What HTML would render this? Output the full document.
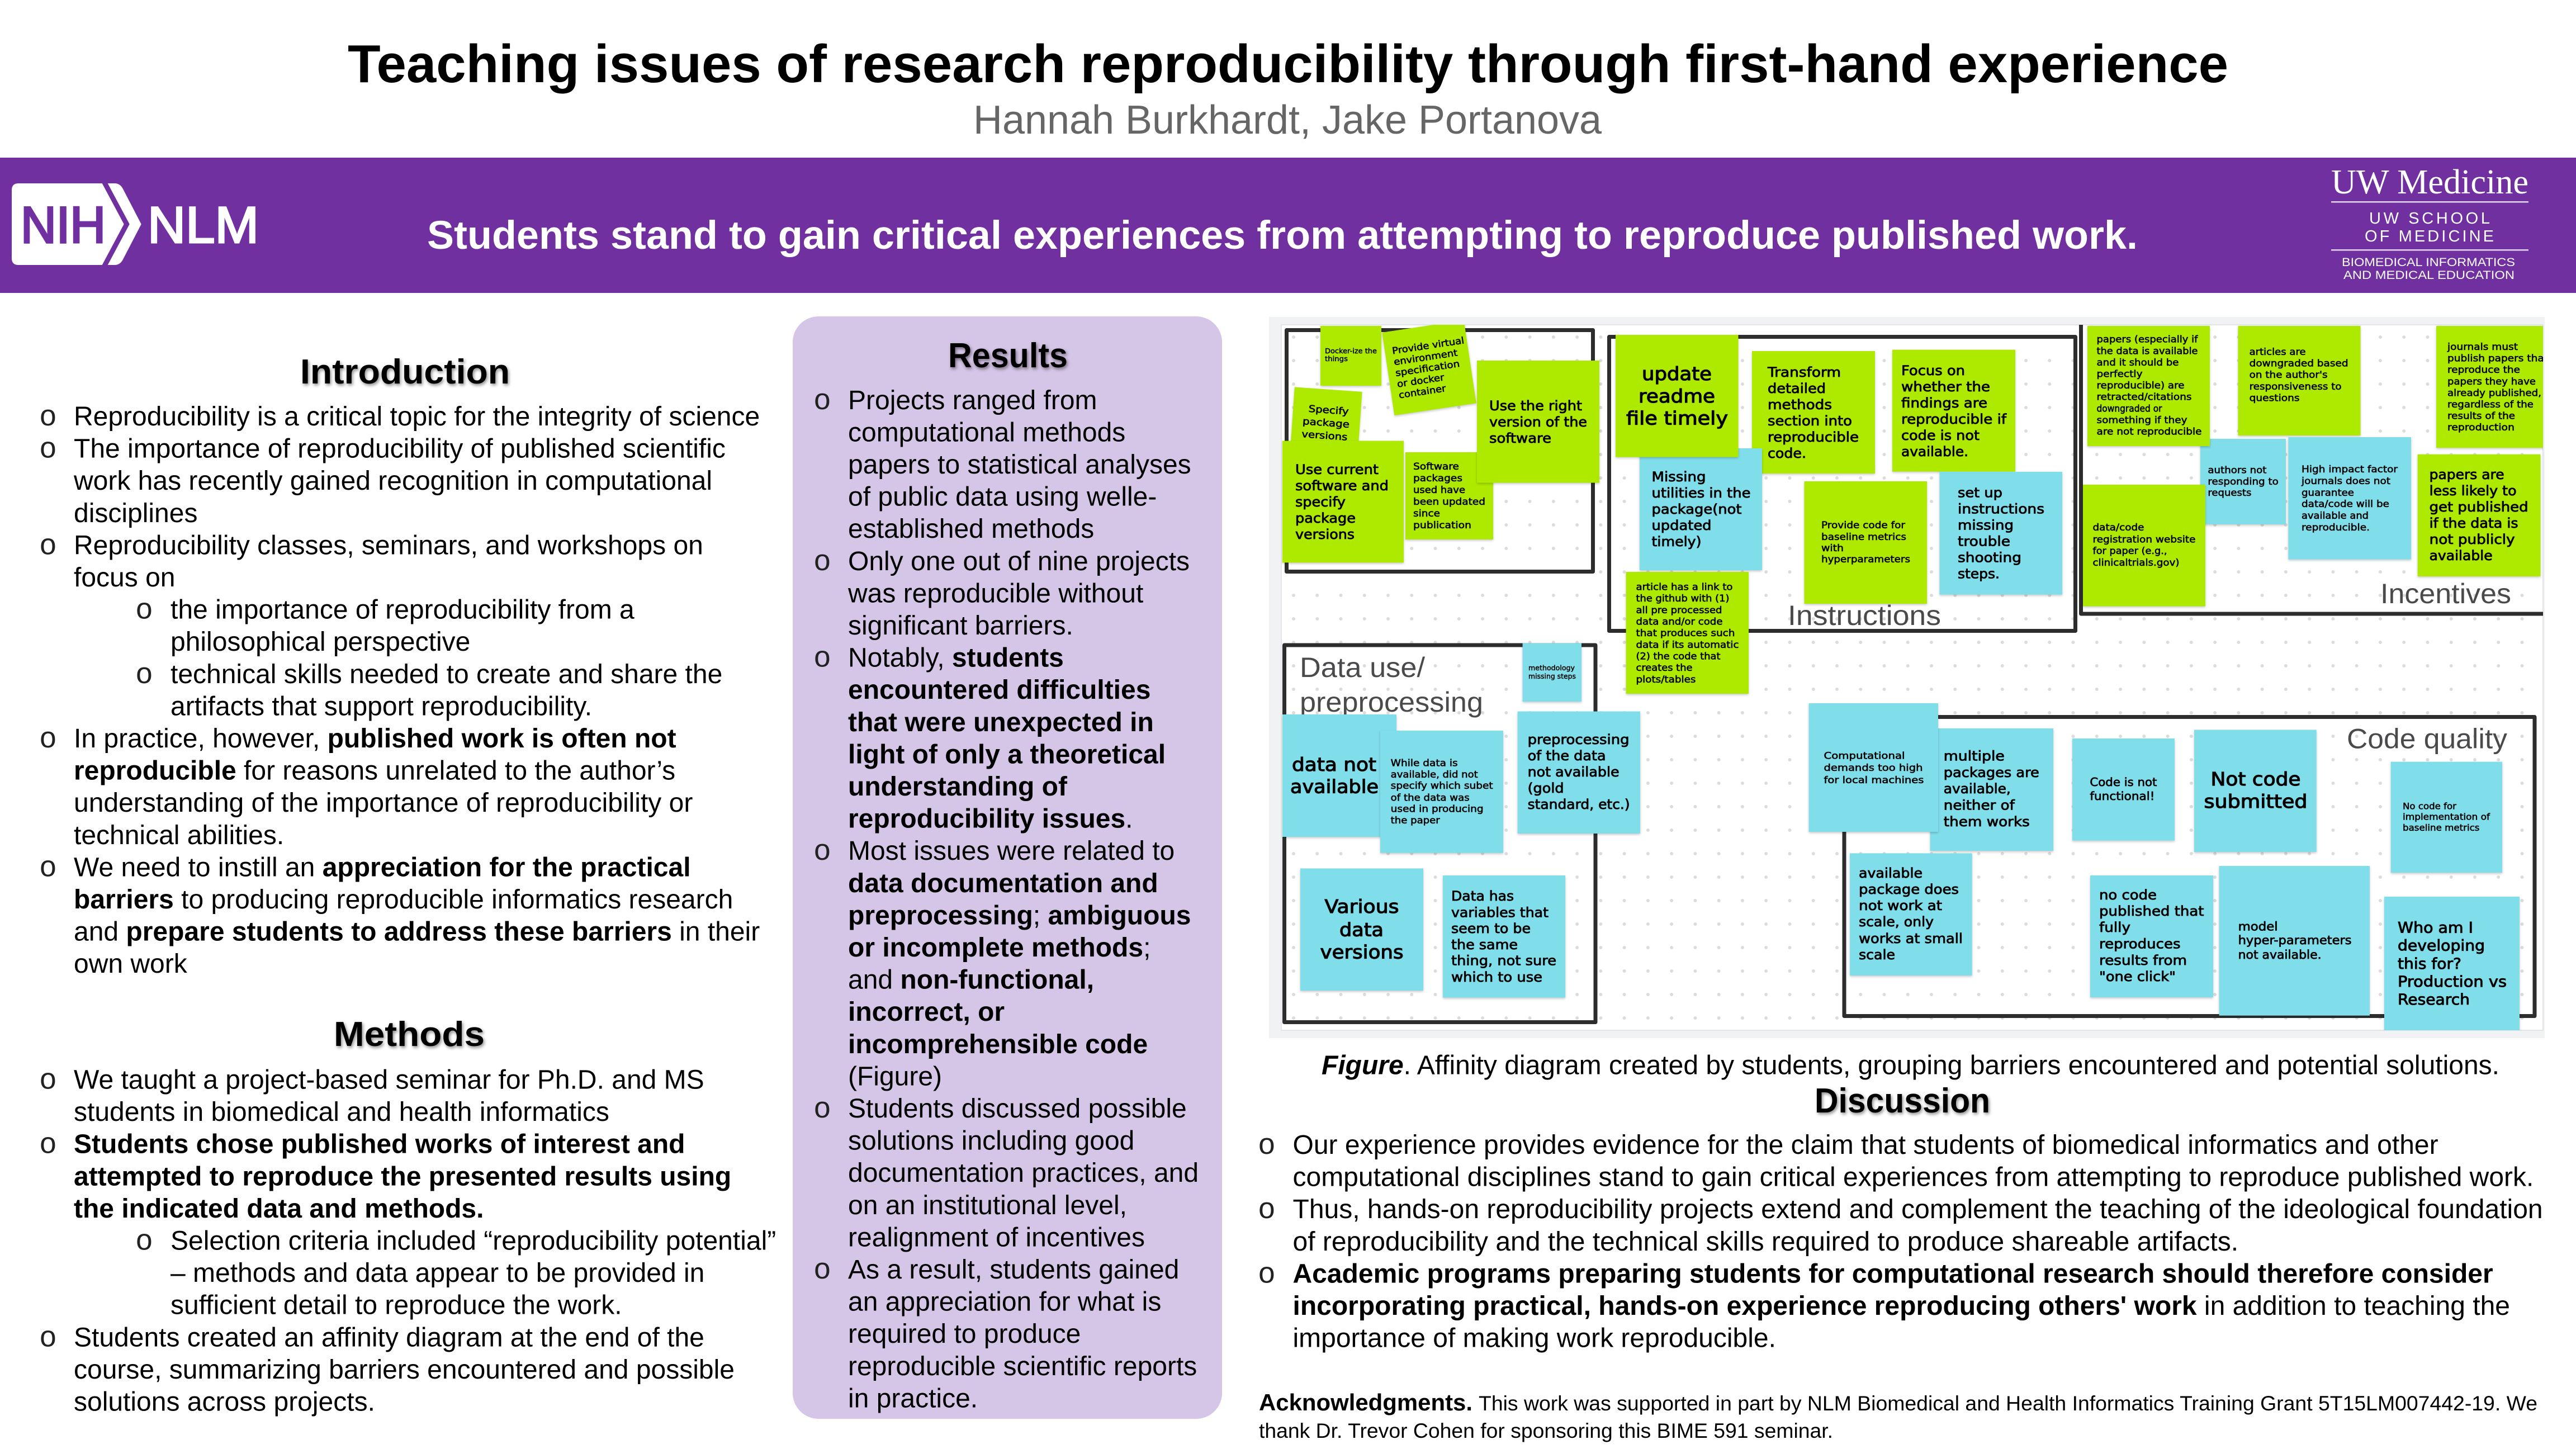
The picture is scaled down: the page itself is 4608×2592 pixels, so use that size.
<!DOCTYPE html>
<html lang="en">
<head>
<meta charset="utf-8">
<title>Teaching issues of research reproducibility through first-hand experience</title>
<style>
html,body{margin:0;padding:0;background:#fff;width:4608px;height:2592px;overflow:hidden}
svg{display:block;position:absolute;left:0;top:0}
text{font-family:"Liberation Sans",Arial,sans-serif;white-space:pre}
.b{font-size:48px;fill:#000}
.o{font-family:"Liberation Mono",monospace;font-size:53px;fill:#222}
.h{font-size:62px;font-weight:700;fill:#000;filter:drop-shadow(2px 3px 3px rgba(0,0,0,.45))}
.st text{font-family:"DejaVu Sans",sans-serif;fill:#000;stroke:#000;stroke-width:.035em}
.st rect{filter:drop-shadow(0 2px 2px rgba(0,0,0,.22))}
.gr{fill:#aeea00}
.bl{fill:#80deea}
.lab{font-size:50px;fill:#4a4a4c}
tspan.B{font-weight:700}
</style>
</head>
<body>
<svg xmlns="http://www.w3.org/2000/svg" width="4608" height="2592" viewBox="0 0 4608 2592">
<defs>
<pattern id="dots" patternUnits="userSpaceOnUse" x="2292.87" y="582" width="42.26" height="42"><circle cx="21.13" cy="21" r="3" fill="#dcdcdc"/></pattern>
<clipPath id="fig"><rect x="2292" y="581" width="2257" height="1262"/></clipPath>
</defs>

<!-- Header -->
<text x="622" y="147" font-size="96" font-weight="700" textLength="3364" lengthAdjust="spacingAndGlyphs">Teaching issues of research reproducibility through first-hand experience</text>
<text x="1741" y="239" font-size="72" fill="#666" textLength="1124" lengthAdjust="spacingAndGlyphs">Hannah Burkhardt, Jake Portanova</text>
<rect x="0" y="282" width="4608" height="242" fill="#7030a0"/>
<text x="764" y="445" font-size="71" font-weight="700" fill="#fff" textLength="3060" lengthAdjust="spacingAndGlyphs">Students stand to gain critical experiences from attempting to reproduce published work.</text>

<!-- NIH logo -->
<path d="M33,328H182.7L221.7,401L182.7,474H33Q21,474 21,462V340Q21,328 33,328Z" fill="#fff"/>
<path d="M192.7,328H205Q215,328 220,338L252.7,401L220,464Q215,474 205,474H192.7L231.7,401Z" fill="#fff"/>
<text x="37" y="434" font-size="92" fill="#7030a0" stroke="#7030a0" stroke-width="3.5" textLength="152" lengthAdjust="spacingAndGlyphs">NIH</text>
<text x="264" y="434" font-size="92" fill="#fff" stroke="#fff" stroke-width="3" textLength="199" lengthAdjust="spacingAndGlyphs">NLM</text>

<!-- UW logo -->
<text x="4170" y="346" font-size="62" fill="#fff" style="font-family:'Liberation Serif',serif" textLength="353" lengthAdjust="spacingAndGlyphs">UW Medicine</text>
<rect x="4170" y="360" width="353" height="2.5" fill="#e3d7ee"/>
<text x="4238" y="400" font-size="29" fill="#fff" textLength="216" lengthAdjust="spacing">UW SCHOOL</text>
<text x="4230" y="432" font-size="29" fill="#fff" textLength="231" lengthAdjust="spacing">OF MEDICINE</text>
<rect x="4170" y="446" width="353" height="2.5" fill="#e3d7ee"/>
<text x="4189" y="476" font-size="21" fill="#fff" textLength="310" lengthAdjust="spacingAndGlyphs">BIOMEDICAL INFORMATICS</text>
<text x="4192" y="499" font-size="21" fill="#fff" textLength="306" lengthAdjust="spacingAndGlyphs">AND MEDICAL EDUCATION</text>

<!-- Introduction -->
<text class="h" x="537" y="686" textLength="375" lengthAdjust="spacingAndGlyphs">Introduction</text>
<text class="o" x="70" y="761">o</text><text class="b" x="132" y="761">Reproducibility is a critical topic for the integrity of science</text>
<text class="o" x="70" y="818.6">o</text><text class="b" x="132" y="818.6">The importance of reproducibility of published scientific</text>
<text class="b" x="132" y="876.2">work has recently gained recognition in computational</text>
<text class="b" x="132" y="933.8">disciplines</text>
<text class="o" x="70" y="991.4">o</text><text class="b" x="132" y="991.4">Reproducibility classes, seminars, and workshops on</text>
<text class="b" x="132" y="1049">focus on</text>
<text class="o" x="242" y="1106.6">o</text><text class="b" x="305" y="1106.6">the importance of reproducibility from a</text>
<text class="b" x="305" y="1164.2">philosophical perspective</text>
<text class="o" x="242" y="1221.8">o</text><text class="b" x="305" y="1221.8">technical skills needed to create and share the</text>
<text class="b" x="305" y="1279.4">artifacts that support reproducibility.</text>
<text class="o" x="70" y="1337">o</text><text class="b" x="132" y="1337">In practice, however, <tspan class="B">published work is often not</tspan></text>
<text class="b" x="132" y="1394.6"><tspan class="B">reproducible</tspan> for reasons unrelated to the author’s</text>
<text class="b" x="132" y="1452.2">understanding of the importance of reproducibility or</text>
<text class="b" x="132" y="1509.8">technical abilities.</text>
<text class="o" x="70" y="1567.4">o</text><text class="b" x="132" y="1567.4">We need to instill an <tspan class="B">appreciation for the practical</tspan></text>
<text class="b" x="132" y="1625"><tspan class="B">barriers</tspan> to producing reproducible informatics research</text>
<text class="b" x="132" y="1682.6">and <tspan class="B">prepare students to address these barriers</tspan> in their</text>
<text class="b" x="132" y="1740.2">own work</text>

<!-- Methods -->
<text class="h" x="597" y="1871" textLength="270" lengthAdjust="spacingAndGlyphs">Methods</text>
<text class="o" x="70" y="1947.5">o</text><text class="b" x="132" y="1947.5">We taught a project-based seminar for Ph.D. and MS</text>
<text class="b" x="132" y="2005.1">students in biomedical and health informatics</text>
<text class="o" x="70" y="2062.7">o</text><text class="b" x="132" y="2062.7"><tspan class="B">Students chose published works of interest and</tspan></text>
<text class="b" x="132" y="2120.3"><tspan class="B">attempted to reproduce the presented results using</tspan></text>
<text class="b" x="132" y="2177.9"><tspan class="B">the indicated data and methods.</tspan></text>
<text class="o" x="242" y="2235.5">o</text><text class="b" x="305" y="2235.5">Selection criteria included “reproducibility potential”</text>
<text class="b" x="305" y="2293.1">– methods and data appear to be provided in</text>
<text class="b" x="305" y="2350.7">sufficient detail to reproduce the work.</text>
<text class="o" x="70" y="2408.3">o</text><text class="b" x="132" y="2408.3">Students created an affinity diagram at the end of the</text>
<text class="b" x="132" y="2465.9">course, summarizing barriers encountered and possible</text>
<text class="b" x="132" y="2523.5">solutions across projects.</text>

<!-- Results -->
<rect x="1418" y="566" width="768" height="1972" rx="46" ry="46" fill="#d5c5e6"/>
<text class="h" x="1696" y="657" textLength="214" lengthAdjust="spacingAndGlyphs">Results</text>
<text class="o" x="1455" y="731.8">o</text><text class="b" x="1517" y="731.8">Projects ranged from</text>
<text class="b" x="1517" y="789.4">computational methods</text>
<text class="b" x="1517" y="847">papers to statistical analyses</text>
<text class="b" x="1517" y="904.6">of public data using welle-</text>
<text class="b" x="1517" y="962.2">established methods</text>
<text class="o" x="1455" y="1019.8">o</text><text class="b" x="1517" y="1019.8">Only one out of nine projects</text>
<text class="b" x="1517" y="1077.4">was reproducible without</text>
<text class="b" x="1517" y="1135">significant barriers.</text>
<text class="o" x="1455" y="1192.6">o</text><text class="b" x="1517" y="1192.6">Notably, <tspan class="B">students</tspan></text>
<text class="b" x="1517" y="1250.2"><tspan class="B">encountered difficulties</tspan></text>
<text class="b" x="1517" y="1307.8"><tspan class="B">that were unexpected in</tspan></text>
<text class="b" x="1517" y="1365.4"><tspan class="B">light of only a theoretical</tspan></text>
<text class="b" x="1517" y="1423"><tspan class="B">understanding of</tspan></text>
<text class="b" x="1517" y="1480.6"><tspan class="B">reproducibility issues</tspan>.</text>
<text class="o" x="1455" y="1538.2">o</text><text class="b" x="1517" y="1538.2">Most issues were related to</text>
<text class="b" x="1517" y="1595.8"><tspan class="B">data documentation and</tspan></text>
<text class="b" x="1517" y="1653.4"><tspan class="B">preprocessing</tspan>; <tspan class="B">ambiguous</tspan></text>
<text class="b" x="1517" y="1711"><tspan class="B">or incomplete methods</tspan>;</text>
<text class="b" x="1517" y="1768.6">and <tspan class="B">non-functional,</tspan></text>
<text class="b" x="1517" y="1826.2"><tspan class="B">incorrect, or</tspan></text>
<text class="b" x="1517" y="1883.8"><tspan class="B">incomprehensible code</tspan></text>
<text class="b" x="1517" y="1941.4">(Figure)</text>
<text class="o" x="1455" y="1999">o</text><text class="b" x="1517" y="1999">Students discussed possible</text>
<text class="b" x="1517" y="2056.6">solutions including good</text>
<text class="b" x="1517" y="2114.2">documentation practices, and</text>
<text class="b" x="1517" y="2171.8">on an institutional level,</text>
<text class="b" x="1517" y="2229.4">realignment of incentives</text>
<text class="o" x="1455" y="2287">o</text><text class="b" x="1517" y="2287">As a result, students gained</text>
<text class="b" x="1517" y="2344.6">an appreciation for what is</text>
<text class="b" x="1517" y="2402.2">required to produce</text>
<text class="b" x="1517" y="2459.8">reproducible scientific reports</text>
<text class="b" x="1517" y="2517.4">in practice.</text>

<!-- Figure panel -->
<rect x="2270" y="567" width="2282" height="1290" fill="#f1f2f4"/>
<rect x="2292" y="581" width="2257" height="1262" fill="#fff" stroke="#e2e4e7" stroke-width="2"/>
<rect x="2292" y="581" width="2257" height="1262" fill="url(#dots)"/>

<g clip-path="url(#fig)">
<!-- frames -->
<g fill="none" stroke="#2d2d2d" stroke-width="7" stroke-linejoin="round">
<rect x="2301.5" y="590.5" width="548" height="432"/>
<rect x="2878.5" y="602.5" width="834" height="526"/>
<path d="M3722.5,570V1098H4570"/>
<rect x="2297.5" y="1154" width="556.5" height="674.5"/>
<rect x="3299" y="1282.5" width="1235" height="535"/>
</g>
<!-- frame labels -->
<text class="lab" x="3198" y="1118" textLength="274" lengthAdjust="spacingAndGlyphs">Instructions</text>
<text class="lab" x="4258" y="1079" textLength="234" lengthAdjust="spacingAndGlyphs">Incentives</text>
<text class="lab" x="2325" y="1211" textLength="224" lengthAdjust="spacingAndGlyphs">Data use/</text>
<text class="lab" x="2325" y="1273" textLength="328" lengthAdjust="spacingAndGlyphs">preprocessing</text>
<text class="lab" x="4198" y="1338.6" textLength="287" lengthAdjust="spacingAndGlyphs">Code quality</text>

<g class="st">
<!-- Top-left group -->
<rect class="gr" x="2362" y="583" width="109" height="107"/>
<g font-size="12.5">
<text x="2370" y="632" textLength="93" lengthAdjust="spacingAndGlyphs">Docker-ize the</text>
<text x="2370" y="646" textLength="41" lengthAdjust="spacingAndGlyphs">things</text>
</g>
<g transform="rotate(-8.5 2556.5 658)" font-size="16.5">
<rect class="gr" x="2482.5" y="583" width="148" height="150"/>
<text x="2495.5" y="624" textLength="130" lengthAdjust="spacingAndGlyphs">Provide virtual</text>
<text x="2495.5" y="644" textLength="115" lengthAdjust="spacingAndGlyphs">environment</text>
<text x="2495.5" y="664" textLength="116" lengthAdjust="spacingAndGlyphs">specification</text>
<text x="2495.5" y="684" textLength="85" lengthAdjust="spacingAndGlyphs">or docker</text>
<text x="2495.5" y="704" textLength="85" lengthAdjust="spacingAndGlyphs">container</text>
</g>
<g transform="rotate(4 2372 757)" font-size="17">
<rect class="gr" x="2311.5" y="696.5" width="121" height="121"/>
<text x="2339" y="739" textLength="72" lengthAdjust="spacingAndGlyphs">Specify</text>
<text x="2330" y="762" textLength="84" lengthAdjust="spacingAndGlyphs">package</text>
<text x="2330" y="785" textLength="82" lengthAdjust="spacingAndGlyphs">versions</text>
</g>
<rect class="gr" x="2294" y="788.6" width="217" height="217.8"/>
<g font-size="24">
<text x="2317" y="848" textLength="149" lengthAdjust="spacingAndGlyphs">Use current</text>
<text x="2317" y="877" textLength="167" lengthAdjust="spacingAndGlyphs">software and</text>
<text x="2317" y="906" textLength="90" lengthAdjust="spacingAndGlyphs">specify</text>
<text x="2317" y="935" textLength="108" lengthAdjust="spacingAndGlyphs">package</text>
<text x="2317" y="964" textLength="106" lengthAdjust="spacingAndGlyphs">versions</text>
</g>
<rect class="gr" x="2514" y="809" width="157" height="156"/>
<g font-size="17">
<text x="2528" y="840" textLength="82" lengthAdjust="spacingAndGlyphs">Software</text>
<text x="2528" y="861" textLength="88" lengthAdjust="spacingAndGlyphs">packages</text>
<text x="2528" y="882" textLength="93" lengthAdjust="spacingAndGlyphs">used have</text>
<text x="2528" y="903" textLength="129" lengthAdjust="spacingAndGlyphs">been updated</text>
<text x="2528" y="924" textLength="48" lengthAdjust="spacingAndGlyphs">since</text>
<text x="2528" y="945" textLength="104" lengthAdjust="spacingAndGlyphs">publication</text>
</g>
<rect class="gr" x="2642" y="645" width="219" height="218.6"/>
<g font-size="24">
<text x="2664" y="734" textLength="166" lengthAdjust="spacingAndGlyphs">Use the right</text>
<text x="2664" y="763" textLength="175" lengthAdjust="spacingAndGlyphs">version of the</text>
<text x="2664" y="792" textLength="111" lengthAdjust="spacingAndGlyphs">software</text>
</g>

<!-- Instructions -->
<rect class="gr" x="3134" y="628" width="220" height="219"/>
<g font-size="24">
<text x="3162" y="674" textLength="131" lengthAdjust="spacingAndGlyphs">Transform</text>
<text x="3162" y="703" textLength="104" lengthAdjust="spacingAndGlyphs">detailed</text>
<text x="3162" y="732" textLength="115" lengthAdjust="spacingAndGlyphs">methods</text>
<text x="3162" y="761" textLength="151" lengthAdjust="spacingAndGlyphs">section into</text>
<text x="3162" y="790" textLength="163" lengthAdjust="spacingAndGlyphs">reproducible</text>
<text x="3162" y="819" textLength="69" lengthAdjust="spacingAndGlyphs">code.</text>
</g>
<rect class="bl" x="2933" y="802" width="219" height="218"/>
<g font-size="24">
<text x="2954.5" y="861" textLength="97" lengthAdjust="spacingAndGlyphs">Missing</text>
<text x="2954.5" y="890" textLength="177" lengthAdjust="spacingAndGlyphs">utilities in the</text>
<text x="2954.5" y="919" textLength="161" lengthAdjust="spacingAndGlyphs">package(not</text>
<text x="2954.5" y="948" textLength="107" lengthAdjust="spacingAndGlyphs">updated</text>
<text x="2954.5" y="977" textLength="89" lengthAdjust="spacingAndGlyphs">timely)</text>
</g>
<rect class="gr" x="2890" y="599" width="219.5" height="218.6"/>
<g font-size="33">
<text x="2937" y="680" textLength="125" lengthAdjust="spacingAndGlyphs">update</text>
<text x="2931" y="720" textLength="137" lengthAdjust="spacingAndGlyphs">readme</text>
<text x="2909" y="759.5" textLength="182" lengthAdjust="spacingAndGlyphs">file timely</text>
</g>
<rect class="gr" x="3385" y="625.6" width="220" height="218"/>
<g font-size="24">
<text x="3401" y="671" textLength="114" lengthAdjust="spacingAndGlyphs">Focus on</text>
<text x="3401" y="700" textLength="159" lengthAdjust="spacingAndGlyphs">whether the</text>
<text x="3401" y="729" textLength="154" lengthAdjust="spacingAndGlyphs">findings are</text>
<text x="3401" y="758" textLength="188" lengthAdjust="spacingAndGlyphs">reproducible if</text>
<text x="3401" y="787" textLength="140" lengthAdjust="spacingAndGlyphs">code is not</text>
<text x="3401" y="816" textLength="120" lengthAdjust="spacingAndGlyphs">available.</text>
</g>
<rect class="gr" x="3227.5" y="861" width="219.5" height="219"/>
<g font-size="17">
<text x="3258" y="945" textLength="150" lengthAdjust="spacingAndGlyphs">Provide code for</text>
<text x="3258" y="966" textLength="152" lengthAdjust="spacingAndGlyphs">baseline metrics</text>
<text x="3258" y="986" textLength="40" lengthAdjust="spacingAndGlyphs">with</text>
<text x="3258" y="1006" textLength="159" lengthAdjust="spacingAndGlyphs">hyperparameters</text>
</g>
<rect class="bl" x="3469.5" y="844" width="219.5" height="219.6"/>
<g font-size="24">
<text x="3502" y="889.5" textLength="80" lengthAdjust="spacingAndGlyphs">set up</text>
<text x="3502" y="918.5" textLength="155" lengthAdjust="spacingAndGlyphs">instructions</text>
<text x="3502" y="947.5" textLength="100" lengthAdjust="spacingAndGlyphs">missing</text>
<text x="3502" y="976.5" textLength="94" lengthAdjust="spacingAndGlyphs">trouble</text>
<text x="3502" y="1005.5" textLength="114" lengthAdjust="spacingAndGlyphs">shooting</text>
<text x="3502" y="1034.5" textLength="75" lengthAdjust="spacingAndGlyphs">steps.</text>
</g>
<rect class="gr" x="2908.6" y="1023" width="219.4" height="218"/>
<g font-size="17">
<text x="2926.5" y="1055.5" textLength="173" lengthAdjust="spacingAndGlyphs">article has a link to</text>
<text x="2926.5" y="1076" textLength="167" lengthAdjust="spacingAndGlyphs">the github with (1)</text>
<text x="2926.5" y="1097" textLength="154" lengthAdjust="spacingAndGlyphs">all pre processed</text>
<text x="2926.5" y="1117.5" textLength="155" lengthAdjust="spacingAndGlyphs">data and/or code</text>
<text x="2926.5" y="1138" textLength="177" lengthAdjust="spacingAndGlyphs">that produces such</text>
<text x="2926.5" y="1159" textLength="184" lengthAdjust="spacingAndGlyphs">data if its automatic</text>
<text x="2926.5" y="1179.5" textLength="151" lengthAdjust="spacingAndGlyphs">(2) the code that</text>
<text x="2926.5" y="1200" textLength="101" lengthAdjust="spacingAndGlyphs">creates the</text>
<text x="2926.5" y="1221" textLength="107" lengthAdjust="spacingAndGlyphs">plots/tables</text>
</g>

<!-- Incentives -->
<rect class="bl" x="3936" y="785" width="153" height="153"/>
<g font-size="17">
<text x="3949.4" y="846.6" textLength="105" lengthAdjust="spacingAndGlyphs">authors not</text>
<text x="3949.4" y="867" textLength="126.5" lengthAdjust="spacingAndGlyphs">responding to</text>
<text x="3949.4" y="887" textLength="78" lengthAdjust="spacingAndGlyphs">requests</text>
</g>
<rect class="gr" x="3734" y="583" width="219" height="215"/>
<g font-size="17">
<text x="3750.5" y="612.7" textLength="181" lengthAdjust="spacingAndGlyphs">papers (especially if</text>
<text x="3750.5" y="633.3" textLength="181" lengthAdjust="spacingAndGlyphs">the data is available</text>
<text x="3750.5" y="653.9" textLength="147" lengthAdjust="spacingAndGlyphs">and it should be</text>
<text x="3750.5" y="674.5" textLength="82" lengthAdjust="spacingAndGlyphs">perfectly</text>
<text x="3750.5" y="695.1" textLength="157" lengthAdjust="spacingAndGlyphs">reproducible) are</text>
<text x="3750.5" y="715.7" textLength="170" lengthAdjust="spacingAndGlyphs">retracted/citations</text>
<text x="3750.5" y="736.3" textLength="117" lengthAdjust="spacingAndGlyphs">downgraded or</text>
<text x="3750.5" y="756.9" textLength="162" lengthAdjust="spacingAndGlyphs">something if they</text>
<text x="3750.5" y="777.5" textLength="188" lengthAdjust="spacingAndGlyphs">are not reproducible</text>
</g>
<rect class="gr" x="4003.5" y="583" width="219" height="196"/>
<g font-size="17">
<text x="4023.6" y="635" textLength="101" lengthAdjust="spacingAndGlyphs">articles are</text>
<text x="4023.6" y="655.6" textLength="177" lengthAdjust="spacingAndGlyphs">downgraded based</text>
<text x="4023.6" y="676.2" textLength="140" lengthAdjust="spacingAndGlyphs">on the author's</text>
<text x="4023.6" y="696.8" textLength="165" lengthAdjust="spacingAndGlyphs">responsiveness to</text>
<text x="4023.6" y="717.4" textLength="90" lengthAdjust="spacingAndGlyphs">questions</text>
</g>
<rect class="gr" x="4358" y="583" width="219" height="218"/>
<g font-size="17">
<text x="4378" y="626" textLength="126" lengthAdjust="spacingAndGlyphs">journals must</text>
<text x="4378" y="646.6" textLength="180" lengthAdjust="spacingAndGlyphs">publish papers that</text>
<text x="4378" y="667.2" textLength="130" lengthAdjust="spacingAndGlyphs">reproduce the</text>
<text x="4378" y="687.8" textLength="158" lengthAdjust="spacingAndGlyphs">papers they have</text>
<text x="4378" y="708.4" textLength="168" lengthAdjust="spacingAndGlyphs">already published,</text>
<text x="4378" y="729" textLength="154" lengthAdjust="spacingAndGlyphs">regardless of the</text>
<text x="4378" y="749.6" textLength="121" lengthAdjust="spacingAndGlyphs">results of the</text>
<text x="4378" y="770.2" textLength="120" lengthAdjust="spacingAndGlyphs">reproduction</text>
</g>
<rect class="bl" x="4093.4" y="782" width="219.6" height="218.6"/>
<g font-size="17">
<text x="4117" y="845" textLength="172" lengthAdjust="spacingAndGlyphs">High impact factor</text>
<text x="4117" y="866" textLength="159" lengthAdjust="spacingAndGlyphs">journals does not</text>
<text x="4117" y="887" textLength="94" lengthAdjust="spacingAndGlyphs">guarantee</text>
<text x="4117" y="907" textLength="157" lengthAdjust="spacingAndGlyphs">data/code will be</text>
<text x="4117" y="928" textLength="120" lengthAdjust="spacingAndGlyphs">available and</text>
<text x="4117" y="949" textLength="122" lengthAdjust="spacingAndGlyphs">reproducible.</text>
</g>
<rect class="gr" x="4324.7" y="812.7" width="219.8" height="218.3"/>
<g font-size="24">
<text x="4345.6" y="857" textLength="134" lengthAdjust="spacingAndGlyphs">papers are</text>
<text x="4345.6" y="886" textLength="156" lengthAdjust="spacingAndGlyphs">less likely to</text>
<text x="4345.6" y="915" textLength="177" lengthAdjust="spacingAndGlyphs">get published</text>
<text x="4345.6" y="944" textLength="159" lengthAdjust="spacingAndGlyphs">if the data is</text>
<text x="4345.6" y="973" textLength="153" lengthAdjust="spacingAndGlyphs">not publicly</text>
<text x="4345.6" y="1002" textLength="113" lengthAdjust="spacingAndGlyphs">available</text>
</g>
<rect class="gr" x="3726" y="867" width="219" height="217.5"/>
<g font-size="17">
<text x="3743.5" y="949" textLength="92" lengthAdjust="spacingAndGlyphs">data/code</text>
<text x="3743.5" y="970.7" textLength="184" lengthAdjust="spacingAndGlyphs">registration website</text>
<text x="3743.5" y="991" textLength="133" lengthAdjust="spacingAndGlyphs">for paper (e.g.,</text>
<text x="3743.5" y="1012" textLength="155" lengthAdjust="spacingAndGlyphs">clinicaltrials.gov)</text>
</g>

<!-- Data use -->
<rect class="bl" x="2723.6" y="1150.6" width="105.4" height="104.4"/>
<g font-size="12.5">
<text x="2734" y="1199" textLength="83" lengthAdjust="spacingAndGlyphs">methodology</text>
<text x="2734" y="1214" textLength="85" lengthAdjust="spacingAndGlyphs">missing steps</text>
</g>
<rect class="bl" x="2294" y="1278" width="204" height="219"/>
<g font-size="33">
<text x="2311" y="1379" textLength="151" lengthAdjust="spacingAndGlyphs">data not</text>
<text x="2308" y="1418.5" textLength="158" lengthAdjust="spacingAndGlyphs">available</text>
</g>
<rect class="bl" x="2469" y="1307" width="220" height="218.7"/>
<g font-size="17">
<text x="2487.7" y="1370.7" textLength="120" lengthAdjust="spacingAndGlyphs">While data is</text>
<text x="2487.7" y="1391" textLength="156" lengthAdjust="spacingAndGlyphs">available, did not</text>
<text x="2487.7" y="1411" textLength="183" lengthAdjust="spacingAndGlyphs">specify which subet</text>
<text x="2487.7" y="1432.5" textLength="141" lengthAdjust="spacingAndGlyphs">of the data was</text>
<text x="2487.7" y="1452.5" textLength="166" lengthAdjust="spacingAndGlyphs">used in producing</text>
<text x="2487.7" y="1473" textLength="88" lengthAdjust="spacingAndGlyphs">the paper</text>
</g>
<rect class="bl" x="2714.7" y="1272.6" width="219.3" height="218.4"/>
<g font-size="24">
<text x="2732.6" y="1331" textLength="182" lengthAdjust="spacingAndGlyphs">preprocessing</text>
<text x="2732.6" y="1360" textLength="140" lengthAdjust="spacingAndGlyphs">of the data</text>
<text x="2732.6" y="1389" textLength="164" lengthAdjust="spacingAndGlyphs">not available</text>
<text x="2732.6" y="1418" textLength="65" lengthAdjust="spacingAndGlyphs">(gold</text>
<text x="2732.6" y="1447" textLength="183" lengthAdjust="spacingAndGlyphs">standard, etc.)</text>
</g>
<rect class="bl" x="2326" y="1553.5" width="220" height="218.5"/>
<g font-size="33">
<text x="2369.5" y="1633" textLength="133" lengthAdjust="spacingAndGlyphs">Various</text>
<text x="2396" y="1674.5" textLength="79" lengthAdjust="spacingAndGlyphs">data</text>
<text x="2361.5" y="1714.7" textLength="149" lengthAdjust="spacingAndGlyphs">versions</text>
</g>
<rect class="bl" x="2581" y="1566" width="219" height="218.5"/>
<g font-size="24">
<text x="2596" y="1611" textLength="112" lengthAdjust="spacingAndGlyphs">Data has</text>
<text x="2596" y="1640.5" textLength="174" lengthAdjust="spacingAndGlyphs">variables that</text>
<text x="2596" y="1669" textLength="142" lengthAdjust="spacingAndGlyphs">seem to be</text>
<text x="2596" y="1698" textLength="119" lengthAdjust="spacingAndGlyphs">the same</text>
<text x="2596" y="1726.6" textLength="188" lengthAdjust="spacingAndGlyphs">thing, not sure</text>
<text x="2596" y="1756" textLength="163" lengthAdjust="spacingAndGlyphs">which to use</text>
</g>

<!-- Code quality -->
<rect class="bl" x="3452.7" y="1303" width="220.3" height="219"/>
<g font-size="24">
<text x="3476.8" y="1360.6" textLength="109" lengthAdjust="spacingAndGlyphs">multiple</text>
<text x="3476.8" y="1390" textLength="171" lengthAdjust="spacingAndGlyphs">packages are</text>
<text x="3476.8" y="1419" textLength="120" lengthAdjust="spacingAndGlyphs">available,</text>
<text x="3476.8" y="1448.5" textLength="127" lengthAdjust="spacingAndGlyphs">neither of</text>
<text x="3476.8" y="1478" textLength="154" lengthAdjust="spacingAndGlyphs">them works</text>
</g>
<rect class="bl" x="3235.7" y="1258" width="231.3" height="230"/>
<g font-size="17">
<text x="3262.5" y="1357.7" textLength="145" lengthAdjust="spacingAndGlyphs">Computational</text>
<text x="3262.5" y="1379" textLength="177" lengthAdjust="spacingAndGlyphs">demands too high</text>
<text x="3262.5" y="1401" textLength="179" lengthAdjust="spacingAndGlyphs">for local machines</text>
</g>
<rect class="bl" x="3707" y="1321" width="183" height="182.6"/>
<g font-size="20">
<text x="3738.4" y="1406" textLength="120" lengthAdjust="spacingAndGlyphs">Code is not</text>
<text x="3738.4" y="1431" textLength="116" lengthAdjust="spacingAndGlyphs">functional!</text>
</g>
<rect class="bl" x="3925" y="1305.5" width="218.7" height="218.5"/>
<g font-size="33">
<text x="3954.5" y="1405" textLength="161" lengthAdjust="spacingAndGlyphs">Not code</text>
<text x="3942.5" y="1445" textLength="185" lengthAdjust="spacingAndGlyphs">submitted</text>
</g>
<rect class="bl" x="4276.8" y="1362.7" width="199.2" height="198.3"/>
<g font-size="16">
<text x="4298" y="1447.7" textLength="96" lengthAdjust="spacingAndGlyphs">No code for</text>
<text x="4298" y="1466.7" textLength="156" lengthAdjust="spacingAndGlyphs">implementation of</text>
<text x="4298" y="1486" textLength="137.5" lengthAdjust="spacingAndGlyphs">baseline metrics</text>
</g>
<rect class="bl" x="3309" y="1526.4" width="218.7" height="218.6"/>
<g font-size="24">
<text x="3325" y="1570" textLength="114" lengthAdjust="spacingAndGlyphs">available</text>
<text x="3325" y="1599" textLength="179" lengthAdjust="spacingAndGlyphs">package does</text>
<text x="3325" y="1628" textLength="149" lengthAdjust="spacingAndGlyphs">not work at</text>
<text x="3325" y="1657" textLength="134" lengthAdjust="spacingAndGlyphs">scale, only</text>
<text x="3325" y="1687" textLength="186" lengthAdjust="spacingAndGlyphs">works at small</text>
<text x="3325" y="1716" textLength="65" lengthAdjust="spacingAndGlyphs">scale</text>
</g>
<rect class="bl" x="3739" y="1566" width="220" height="218"/>
<g font-size="24">
<text x="3755" y="1609" textLength="103" lengthAdjust="spacingAndGlyphs">no code</text>
<text x="3755" y="1638" textLength="187.5" lengthAdjust="spacingAndGlyphs">published that</text>
<text x="3755" y="1667" textLength="56" lengthAdjust="spacingAndGlyphs">fully</text>
<text x="3755" y="1696.4" textLength="145.5" lengthAdjust="spacingAndGlyphs">reproduces</text>
<text x="3755" y="1726" textLength="157" lengthAdjust="spacingAndGlyphs">results from</text>
<text x="3755" y="1755" textLength="137" lengthAdjust="spacingAndGlyphs">"one click"</text>
</g>
<rect class="bl" x="3969.6" y="1549" width="269.4" height="267.7"/>
<g font-size="21">
<text x="4003.6" y="1664.5" textLength="71" lengthAdjust="spacingAndGlyphs">model</text>
<text x="4003.6" y="1689" textLength="203" lengthAdjust="spacingAndGlyphs">hyper-parameters</text>
<text x="4003.6" y="1715" textLength="149" lengthAdjust="spacingAndGlyphs">not available.</text>
</g>
<rect class="bl" x="4265" y="1604" width="242" height="240"/>
<g font-size="26.5">
<text x="4289" y="1668.6" textLength="135" lengthAdjust="spacingAndGlyphs">Who am I</text>
<text x="4289" y="1700.6" textLength="156" lengthAdjust="spacingAndGlyphs">developing</text>
<text x="4289" y="1733" textLength="114" lengthAdjust="spacingAndGlyphs">this for?</text>
<text x="4289" y="1765" textLength="195" lengthAdjust="spacingAndGlyphs">Production vs</text>
<text x="4289" y="1797" textLength="129" lengthAdjust="spacingAndGlyphs">Research</text>
</g>
</g>
</g>

<!-- Caption -->
<text class="b" x="2364" y="1921.6"><tspan font-weight="700" font-style="italic">Figure</tspan>. Affinity diagram created by students, grouping barriers encountered and potential solutions.</text>

<!-- Discussion -->
<text class="h" x="3246" y="1990" textLength="314" lengthAdjust="spacingAndGlyphs">Discussion</text>
<text class="o" x="2250" y="2064">o</text><text class="b" x="2312.5" y="2064">Our experience provides evidence for the claim that students of biomedical informatics and other</text>
<text class="b" x="2312.5" y="2121.6">computational disciplines stand to gain critical experiences from attempting to reproduce published work.</text>
<text class="o" x="2250" y="2179.2">o</text><text class="b" x="2312.5" y="2179.2">Thus, hands-on reproducibility projects extend and complement the teaching of the ideological foundation</text>
<text class="b" x="2312.5" y="2236.8">of reproducibility and the technical skills required to produce shareable artifacts.</text>
<text class="o" x="2250" y="2294.4">o</text><text class="b" x="2312.5" y="2294.4"><tspan class="B">Academic programs preparing students for computational research should therefore consider</tspan></text>
<text class="b" x="2312.5" y="2352"><tspan class="B">incorporating practical, hands-on experience reproducing others' work</tspan> in addition to teaching the</text>
<text class="b" x="2312.5" y="2409.6">importance of making work reproducible.</text>

<!-- Acknowledgments -->
<text x="2252" y="2523" font-size="42" font-weight="700" textLength="382" lengthAdjust="spacingAndGlyphs">Acknowledgments.</text>
<text x="2645" y="2523" font-size="37.3" textLength="1894" lengthAdjust="spacingAndGlyphs">This work was supported in part by NLM Biomedical and Health Informatics Training Grant 5T15LM007442-19. We</text>
<text x="2252" y="2572" font-size="37.3" textLength="1027" lengthAdjust="spacingAndGlyphs">thank Dr. Trevor Cohen for sponsoring this BIME 591 seminar.</text>
</svg>
</body>
</html>
